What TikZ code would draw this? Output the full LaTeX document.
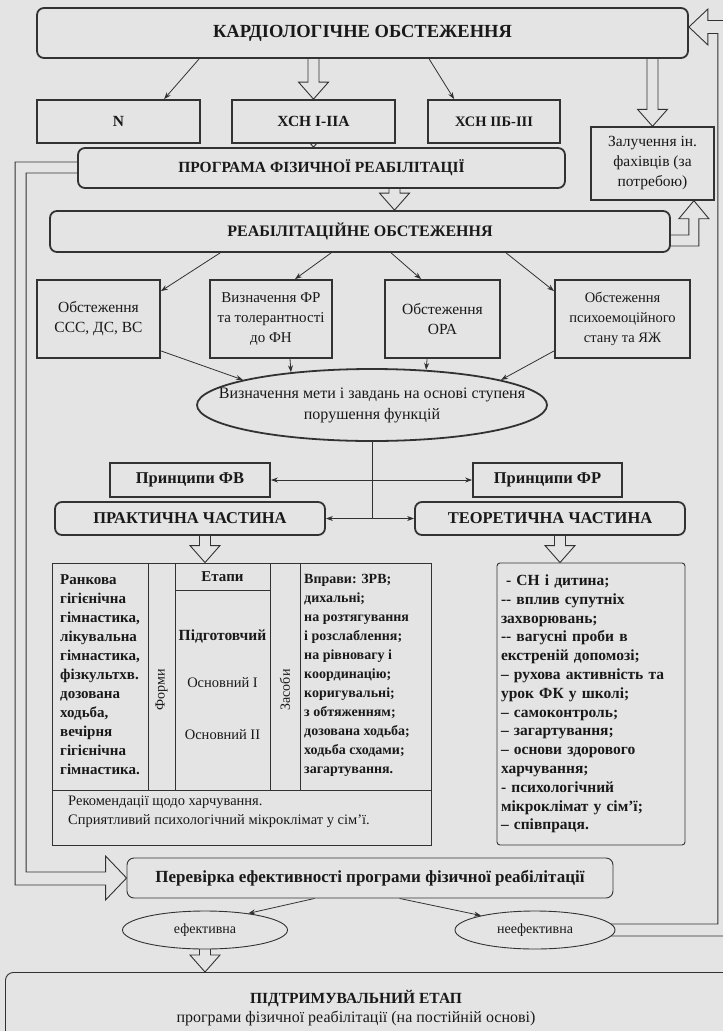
\documentclass[tikz,border=0pt]{standalone}
\usepackage{fontspec}
\setmainfont{Liberation Serif}
\usetikzlibrary{calc,arrows.meta,shapes.geometric}
\definecolor{bgcol}{RGB}{228,228,228}
\definecolor{linecol}{RGB}{50,50,50}
\definecolor{txtcol}{RGB}{25,25,25}
\pgfdeclarelayer{back}
\pgfdeclarelayer{conn}
\pgfsetlayers{back,conn,main}
\newcommand\fs[2]{\fontsize{#1}{#2}\selectfont}
% hollow arrow pointing down from #1 to #2 (x taken from #1)
\newcommand{\hdn}[2]{%
  \path[harrow] let \p1=(#1), \p2=(#2) in
    (\x1-5.5pt,\y1+3pt) -- (\x1-5.5pt,\y2+17pt) -- (\x1-15pt,\y2+17pt) -- (\x1,\y2)
    -- (\x1+15pt,\y2+17pt) -- (\x1+5.5pt,\y2+17pt) -- (\x1+5.5pt,\y1+3pt);}
\begin{document}
\begin{tikzpicture}[x=1pt,y=-1pt,
 tbox/.style={draw=linecol,line width=1.8pt,fill=bgcol,align=center,inner sep=2pt,text=txtcol},
 rbox/.style={tbox,rounded corners=7pt},
 nbox/.style={draw=linecol,line width=0.9pt,fill=bgcol,align=center,inner sep=2pt,text=txtcol},
 conn/.style={draw=linecol,line width=0.8pt,-{Stealth[length=7pt,width=5pt]}},
 plain/.style={draw=linecol,line width=0.8pt},
 harrow/.style={draw=linecol,line width=0.9pt,fill=bgcol,line join=miter},
 txt/.style={text=txtcol,inner sep=0pt},
 ttl/.style={font=\fs{15.5}{18}\bfseries},
 body/.style={font=\fs{14.5}{19}},
]
\begin{pgfonlayer}{back}
 \fill[bgcol] (0,0) rectangle (723,1031);
\end{pgfonlayer}
\useasboundingbox (0,0) rectangle (723,1031);

% ---------- nodes ----------
\node[rbox,font=\fs{18.5}{20}\bfseries,minimum width=651,minimum height=50] (kard) at (362.5,33) {КАРДІОЛОГІЧНЕ ОБСТЕЖЕННЯ};
\node[tbox,ttl,minimum width=163,minimum height=43] (n) at (118.5,121.5) {N};
\node[tbox,ttl,minimum width=163,minimum height=43] (x1) at (313.5,121.5) {ХСН І-ІІА};
\node[tbox,ttl,font=\fs{14.5}{18}\bfseries,minimum width=132,minimum height=43] (x2) at (494,121.5) {ХСН ІІБ-ІІІ};
\node[rbox,ttl,minimum width=487,minimum height=40] (prog) at (321.5,168) {ПРОГРАМА ФІЗИЧНОЇ РЕАБІЛІТАЦІЇ};
\node[tbox,font=\fs{15.5}{20},line width=1.4pt,minimum width=123,minimum height=73] (zal) at (652.5,163.5) {Залучення ін.\\фахівців (за\\потребою)};
\node[rbox,ttl,font=\fs{16}{18}\bfseries,minimum width=620,minimum height=41] (reab) at (360,231.5) {РЕАБІЛІТАЦІЙНЕ ОБСТЕЖЕННЯ};

\node[tbox,font=\fs{15.5}{20},minimum width=123,minimum height=78] (b1) at (98.5,319) {Обстеження\\ССС, ДС, ВС};
\node[tbox,font=\fs{15}{20},minimum width=122,minimum height=78] (b2) at (271,319) {Визначення ФР\\та толерантності\\до ФН};
\node[tbox,font=\fs{15.5}{20},minimum width=115,minimum height=78] (b3) at (442.5,319) {Обстеження\\ОРА};
\node[tbox,font=\fs{14.5}{20},minimum width=135,minimum height=78] (b4) at (622.5,319) {Обстеження\\психоемоційного\\стану та ЯЖ};

\node[tbox,ellipse,minimum width=350,minimum height=72,inner sep=0pt] (goal) at (372,405)
  {\makebox[0pt][c]{\fs{16}{21}\begin{tabular}{@{}c@{}}Визначення мети і завдань на основі ступеня\\порушення функцій\end{tabular}}};

\node[tbox,font=\fs{16.5}{18}\bfseries,minimum width=160,minimum height=34] (pfv) at (190,480) {Принципи ФВ};
\node[tbox,font=\fs{16.5}{18}\bfseries,minimum width=149,minimum height=34] (pfr) at (547.5,480) {Принципи ФР};

\node[rbox,font=\fs{16.5}{18}\bfseries,minimum width=270,minimum height=33] (prak) at (190,518.5) {ПРАКТИЧНА ЧАСТИНА};
\node[rbox,font=\fs{16.5}{18}\bfseries,minimum width=270,minimum height=33] (teor) at (550,518.5) {ТЕОРЕТИЧНА ЧАСТИНА};

% practical table
\node[nbox,minimum width=379,minimum height=282] (ptab) at (241.5,704) {};
\draw[plain] (148,563) -- (148,790);
\draw[plain] (175,563) -- (175,790);
\draw[plain] (270,563) -- (270,790);
\draw[plain] (300,563) -- (300,790);
\draw[plain] (175,590) -- (270,590);
\draw[plain] (52,790) -- (431,790);
\node[txt,anchor=north west,align=left,font=\fs{15}{19}\bfseries] (c1) at (60,574) {Ранкова\\гігієнічна\\гімнастика,\\лікувальна\\гімнастика,\\фізкультхв.\\дозована\\ходьба,\\вечірня\\гігієнічна\\гімнастика.};
\node[txt,rotate=90,font=\fs{14}{17}] (forms) at (161.5,690) {Форми};
\node[txt,font=\fs{15}{17}\bfseries] (etapy) at (222.5,577) {Етапи};
\node[txt,font=\fs{15.5}{17}\bfseries] (e1) at (222.5,636) {Підготовчий};
\node[txt,font=\fs{14.5}{17}] (e2) at (222.5,683) {Основний І};
\node[txt,font=\fs{14.5}{17}] (e3) at (222.5,735) {Основний ІІ};
\node[txt,rotate=90,font=\fs{14}{17}] (zas) at (285,690) {Засоби};
\node[txt,anchor=north west,align=left,font=\fs{14}{19}\bfseries] (c5) at (304,574) {Вправи: ЗРВ;\\дихальні;\\на розтягування\\і розслаблення;\\на рівновагу і\\координацію;\\коригувальні;\\з обтяженням;\\дозована ходьба;\\ходьба сходами;\\загартування.};
\node[txt,anchor=west,align=left,font=\fs{14.5}{19}] (rec) at (68,812) {Рекомендації щодо харчування.\\Сприятливий психологічний мікроклімат у сім'ї.};

% theoretical list
\node[nbox,rounded corners=3pt,minimum width=188,minimum height=282,text width=180,align=left,inner sep=3pt,font=\fs{15.5}{18.8}\bfseries] (tlist) at (591,704)
 {\ - СН і дитина;\\-{}- вплив супутніх\\захворювань;\\-{}- вагусні проби в\\екстреній допомозі;\\– рухова активність та\\урок ФК у школі;\\– самоконтроль;\\– загартування;\\– основи здорового\\харчування;\\- психологічний\\мікроклімат у сім'ї;\\– співпраця.};

\node[nbox,rounded corners=7pt,font=\fs{17}{18}\bfseries,minimum width=486,minimum height=40] (perev) at (370,878) {Перевірка ефективності програми фізичної реабілітації};

\node[nbox,ellipse,font=\fs{14}{17},minimum width=165,minimum height=38] (eff) at (205,930) {ефективна};
\node[nbox,ellipse,font=\fs{14}{17},minimum width=160,minimum height=38] (neeff) at (535,930) {неефективна};

\node[nbox,rounded corners=8pt,minimum width=760,minimum height=90,anchor=north west] (pidtbox) at (5,972) {};
\node[txt,align=center,font=\fs{15.5}{18}] (pidt) at (356,1008) {\bfseries ПІДТРИМУВАЛЬНИЙ ЕТАП\\[1pt]\fs{16}{18}програми фізичної реабілітації (на постійній основі)};

% ---------- connectors ----------
\begin{pgfonlayer}{conn}
\coordinate (pr1) at ($(prog.south)+(73,0)$);
\coordinate (pk) at ($(prak.south)+(15,0)$);
\coordinate (tk) at ($(teor.south)+(10,0)$);
\hdn{kard.south -| x1.north}{x1.north}
\hdn{x1.south}{x1.south |- prog.north}
\hdn{pr1}{pr1 |- reab.north}
\hdn{kard.south -| zal.north}{zal.north}
\hdn{pk}{pk |- ptab.north}
\hdn{tk}{tk |- tlist.north}
\hdn{eff.south}{eff.south |- pidtbox.north}

\draw[conn] ($(kard.south west)+(163,0)$) -- ($(n.north west)+(128,0)$);
\draw[conn] ($(kard.south west)+(393,0)$) -- ($(x2.north west)+(27,0)$);
\draw[conn] ($(reab.south west)+(171,0)$) -- ($(b1.north east)+(0,12)$);
\draw[conn] ($(reab.south west)+(282,0)$) -- ($(b2.north)+(24,0)$);
\draw[conn] ($(reab.south west)+(342,0)$) -- ($(b3.north west)+(37,0)$);
\draw[conn] ($(reab.south west)+(457,0)$) -- ($(b4.north west)+(0,12)$);
\draw[conn] ($(b1.south east)+(0,-8)$) -- (goal.169);
\draw[conn] ($(b2.south)+(19,0)$) -- (goal.158);
\draw[conn] ($(b3.south west)+(43,0)$) -- (goal.33);
\draw[conn] ($(b4.south west)+(0,-8)$) -- (goal.11);

\coordinate (j1) at (goal.south |- pfv.east);
\coordinate (j2) at (goal.south |- prak.east);
\draw[plain] (goal.south) -- (j2);
\draw[conn] (j1) -- (pfv.east);
\draw[conn] (j1) -- (pfr.west);
\draw[conn] (j2) -- (prak.east);
\draw[conn] (j2) -- (teor.west);

\draw[conn] ($(perev.south west)+(188,0)$) -- (eff.21);
\draw[conn] ($(perev.south west)+(273,0)$) -- (neeff.165);

% reab -> zal elbow hollow arrow
\path[harrow] let \p1=(reab.east), \p2=(zal.south) in
  (\x1-3pt,\y1-3.5pt) -- (\x1+18pt,\y1-3.5pt) -- (\x1+18pt,\y2-18pt) -- (\x1+8pt,\y2-18pt)
  -- (\x1+23pt,\y2) -- (\x1+38pt,\y2-18pt) -- (\x1+28pt,\y2-18pt) -- (\x1+28pt,\y1-14.5pt) -- (\x1-3pt,\y1-14.5pt);
% left loop: prog -> perev
\path[harrow] let \p1=(prog.west), \p2=(perev.west) in
  (\x1+3pt,\y1+6pt) -- (\x1-62pt,\y1+6pt) -- (\x1-62pt,\y2-7pt) -- (\x2-21pt,\y2-7pt) -- (\x2-21pt,\y2-22pt)
  -- (\x2,\y2) -- (\x2-21pt,\y2+22pt) -- (\x2-21pt,\y2+6pt) -- (\x1-51pt,\y2+6pt) -- (\x1-51pt,\y1-5pt) -- (\x1+3pt,\y1-5pt);
% right loop: neeff -> kard
\coordinate (ktip) at ($(kard.east)+(0,-6)$);
\path[harrow] let \p1=(ktip), \p2=(neeff.east) in
  (\x2-5pt,\y2+6pt) -- (\x1+29pt,\y2+6pt) -- (\x1+29pt,\y1-6.5pt) -- (\x1+19pt,\y1-6.5pt) -- (\x1+19pt,\y1-18pt)
  -- (\x1,\y1) -- (\x1+19pt,\y1+18pt) -- (\x1+19pt,\y1+6.5pt) -- (\x1+41pt,\y1+6.5pt) -- (\x1+41pt,\y2-6pt) -- (\x2-5pt,\y2-6pt);
\end{pgfonlayer}
\end{tikzpicture}
\end{document}
